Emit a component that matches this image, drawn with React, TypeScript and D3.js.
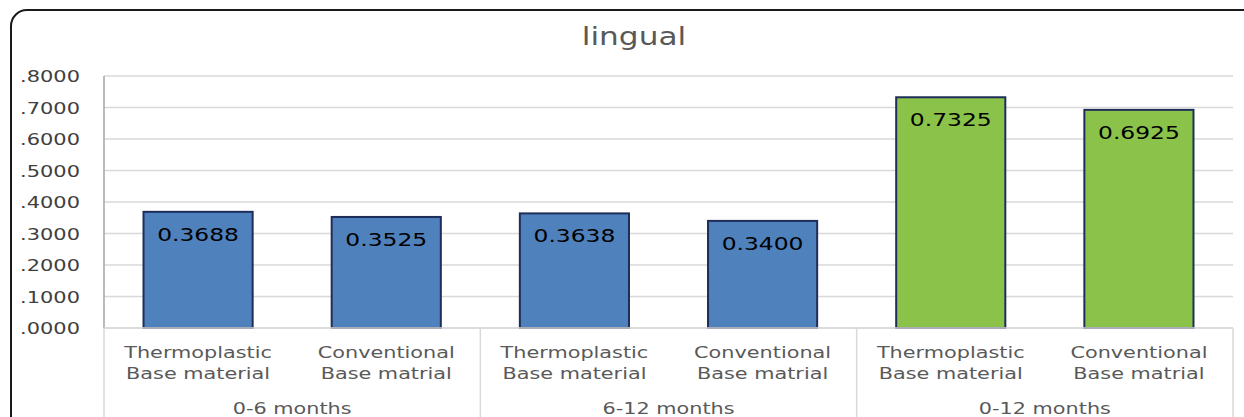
import React from 'react';
import * as d3 from 'd3';

const title = 'lingual';
const periods = ['0-6 months', '6-12 months', '0-12 months'];
const materials = [
  ['Thermoplastic', 'Base material'],
  ['Conventional', 'Base matrial'],
];
const values = [0.3688, 0.3525, 0.3638, 0.34, 0.7325, 0.6925];
const barColors = ['#4F81BD', '#4F81BD', '#4F81BD', '#4F81BD', '#8BC34A', '#8BC34A'];
const yTicks = [0, 0.1, 0.2, 0.3, 0.4, 0.5, 0.6, 0.7, 0.8];

const W = 1244;
const H = 417;
const FONT = 'DejaVu Sans, Verdana, sans-serif';
const SX = 1.3; // reference text looks horizontally stretched

export default function App() {
  const left = 104;
  const right = 1233;
  const top = 76;
  const bottom = 328;

  const keys = values.map((_, i) => `b${i}`);
  const x = d3.scaleBand<string>().domain(keys).range([left, right]).paddingInner(0.42).paddingOuter(0.21);
  const y = d3.scaleLinear().domain([0, 0.8]).range([bottom, top]);
  const groupX = d3.scaleBand<string>().domain(periods).range([left, right]);

  const fmt = (v: number) => d3.format('.4f')(v).replace(/^0/, '');

  const stretched = (tx: number, ty: number, s = SX) => `translate(${tx},${ty}) scale(${s},1)`;

  return (
    <svg width={W} height={H} style={{ position: 'absolute', left: 0, top: 0 }}>
      <rect width={W} height={H} fill="#fff" />
      <rect x={11} y={10} width={1260} height={520} rx={16} fill="none" stroke="#1a1a1a" strokeWidth={2} />

      <text transform={stretched(634, 45)} textAnchor="middle" fontFamily={FONT} fontSize={24} fill="#595959">
        {title}
      </text>

      {yTicks.map((t) => (
        <g key={t}>
          <line x1={left} x2={right} y1={y(t)} y2={y(t)} stroke="#D9D9D9" strokeWidth={1.5} />
          <text transform={stretched(80, y(t) + 6, 1.35)} textAnchor="end" fontFamily={FONT} fontSize={15.5} fill="#404040">
            {fmt(t)}
          </text>
        </g>
      ))}

      <line x1={left} x2={left} y1={top} y2={bottom} stroke="#A6A6A6" strokeWidth={1.5} />

      {values.map((v, i) => (
        <g key={i}>
          <rect
            x={x(keys[i])}
            y={y(v)}
            width={x.bandwidth()}
            height={y(0) - y(v)}
            fill={barColors[i]}
            stroke="#1F2D5A"
            strokeWidth={2}
          />
          <text
            transform={stretched((x(keys[i]) as number) + x.bandwidth() / 2, y(v) + 29)}
            textAnchor="middle"
            fontFamily={FONT}
            fontSize={18}
            fill="#000"
          >
            {v.toFixed(4)}
          </text>
        </g>
      ))}

      <line x1={left} x2={right} y1={bottom} y2={bottom} stroke="#D9D9D9" strokeWidth={1.5} />
      {[...periods.map((p) => groupX(p) as number), right].map((gx, i) => (
        <line key={i} x1={gx} x2={gx} y1={bottom} y2={H} stroke="#D9D9D9" strokeWidth={1.5} />
      ))}

      {values.map((_, i) => {
        const cx = (x(keys[i]) as number) + x.bandwidth() / 2;
        const lines = materials[i % 2];
        return (
          <g key={`c${i}`}>
            {lines.map((l, j) => (
              <text
                key={j}
                transform={stretched(cx, 358 + j * 21)}
                textAnchor="middle"
                fontFamily={FONT}
                fontSize={16}
                fill="#595959"
              >
                {l}
              </text>
            ))}
          </g>
        );
      })}

      {periods.map((p) => (
        <text
          key={p}
          transform={stretched((groupX(p) as number) + groupX.bandwidth() / 2, 414)}
          textAnchor="middle"
          fontFamily={FONT}
          fontSize={16}
          fill="#595959"
        >
          {p}
        </text>
      ))}
    </svg>
  );
}
